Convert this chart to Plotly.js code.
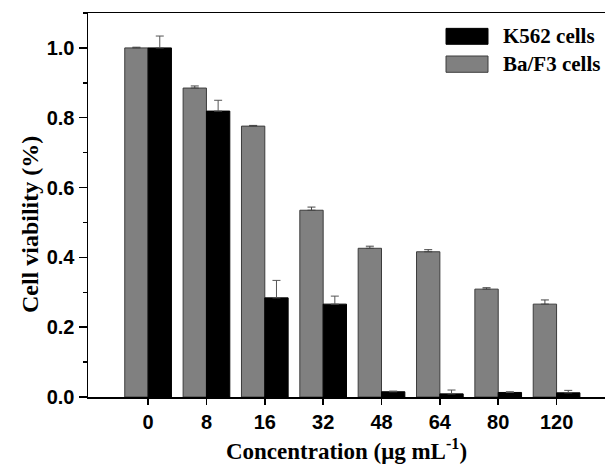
<!DOCTYPE html>
<html>
<head>
<meta charset="utf-8">
<script src="https://cdn.plot.ly/plotly-3.0.1.min.js"></script>
<style>html,body{margin:0;padding:0;background:#fff;}#chart{width:605px;height:468px;}</style>
</head>
<body>
<div id="chart"></div>
<script>
const categories = ["0", "8", "16", "32", "48", "64", "80", "120"];
const bafValues = [1.000, 0.885, 0.776, 0.535, 0.426, 0.416, 0.309, 0.266];
const bafErrors = [0.002, 0.006, 0.002, 0.009, 0.006, 0.006, 0.004, 0.012];
const k562Values = [1.000, 0.819, 0.284, 0.266, 0.015, 0.009, 0.013, 0.012];
const k562Errors = [0.034, 0.031, 0.050, 0.023, 0.002, 0.011, 0.002, 0.007];
const zeros = categories.map(() => 0);
const seriesNames = ["K562 cells", "Ba/F3 cells"];
const yTicks = [0.0, 0.2, 0.4, 0.6, 0.8, 1.0];

const xIdx = categories.map((c, i) => i);

const traces = [
  {
    type: "bar", name: seriesNames[1], x: xIdx, y: bafValues,
    marker: {color: "#808080", line: {color: "#3c3c3c", width: 1}},
    error_y: {type: "data", symmetric: false, array: bafErrors, arrayminus: zeros, color: "#444", thickness: 1, width: 4},
    showlegend: false
  },
  {
    type: "bar", name: seriesNames[0], x: xIdx, y: k562Values,
    marker: {color: "#000000", line: {color: "#000000", width: 1}},
    error_y: {type: "data", symmetric: false, array: k562Errors, arrayminus: zeros, color: "#555", thickness: 1, width: 4},
    showlegend: false
  }
];

const serif = "Liberation Serif, Times New Roman, serif";
const sans = "Liberation Sans, Arial, sans-serif";

const layout = {
  width: 605, height: 468,
  margin: {l: 88, r: 0, t: 13, b: 71},
  paper_bgcolor: "#fff", plot_bgcolor: "#fff",
  barmode: "group", bargap: 0.2, bargroupgap: 0,
  showlegend: false,
  xaxis: {
    range: [-1.03, 7.83],
    tickmode: "array", tickvals: xIdx, ticktext: categories,
    showline: true, linecolor: "#000", linewidth: 1.5, mirror: true,
    ticks: "outside", ticklen: 6, tickwidth: 1.5, tickcolor: "#000",
    showgrid: false, zeroline: false,
    tickfont: {family: sans, size: 20, color: "#000", weight: "bold"},
    title: {text: "<b>Concentration (μg mL<sup>-1</sup>)</b>", font: {family: serif, size: 23, color: "#000"}, standoff: 11}
  },
  yaxis: {
    range: [0, 1.1],
    tickmode: "array", tickvals: yTicks, ticktext: yTicks.map(v => v.toFixed(1)),
    showline: true, linecolor: "#000", linewidth: 1.5,
    ticks: "outside", ticklen: 8, tickwidth: 1.5, tickcolor: "#000",
    minor: {dtick: 0.1, tick0: 0.1, ticks: "outside", ticklen: 4, tickwidth: 1.5, tickcolor: "#000", showgrid: false},
    showgrid: false, zeroline: false,
    tickfont: {family: sans, size: 20, color: "#000", weight: "bold"}
  },
  shapes: [
    {type: "rect", xref: "paper", yref: "paper", x0: 0.6925, x1: 0.7737, y0: 0.9185, y1: 0.960, fillcolor: "#000", line: {color: "#000", width: 1}},
    {type: "rect", xref: "paper", yref: "paper", x0: 0.6925, x1: 0.7737, y0: 0.8456, y1: 0.888, fillcolor: "#808080", line: {color: "#3c3c3c", width: 1}}
  ],
  annotations: [
    {xref: "paper", yref: "paper", x: 0.7988, y: 0.940, xanchor: "left", yanchor: "middle", showarrow: false, text: "<b>" + seriesNames[0] + "</b>", font: {family: serif, size: 21, color: "#000"}},
    {xref: "paper", yref: "paper", x: 0.7988, y: 0.867, xanchor: "left", yanchor: "middle", showarrow: false, text: "<b>" + seriesNames[1] + "</b>", font: {family: serif, size: 21, color: "#000"}},
    {xref: "paper", yref: "paper", x: -0.112, y: 0.448, xanchor: "center", yanchor: "middle", textangle: -90, showarrow: false, text: "<b>Cell viability (%)</b>", font: {family: serif, size: 24, color: "#000"}}
  ]
};

Plotly.newPlot("chart", traces, layout, {displayModeBar: false, staticPlot: true});
</script>
</body>
</html>
